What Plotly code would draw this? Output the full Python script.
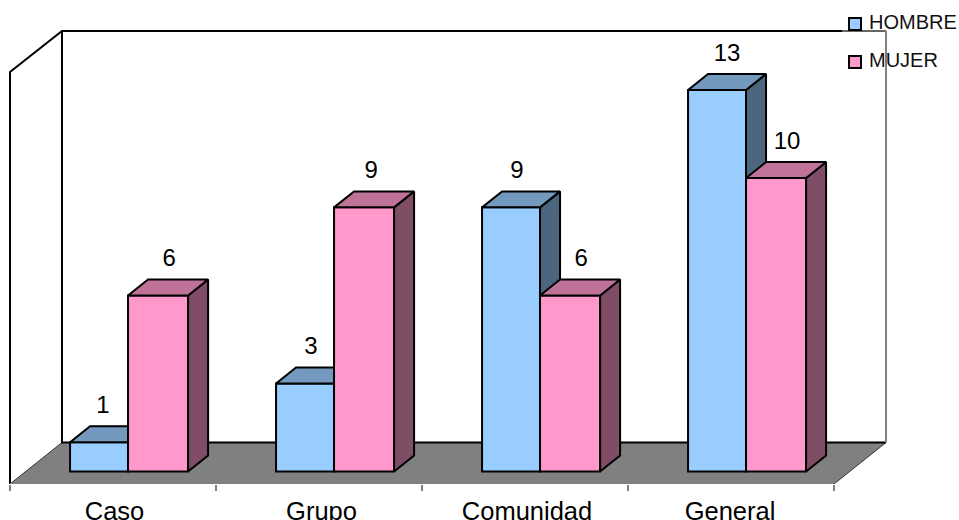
import plotly.graph_objects as go

categories = ["Caso", "Grupo", "Comunidad", "General"]
hombre = [1, 3, 9, 13]
mujer = [6, 9, 6, 10]
series_names = ["HOMBRE", "MUJER"]

FONT = "Liberation Sans, Arial, sans-serif"
W, H = 959, 520
PX_X0, PX_CAT = 10.0, 206.0     # pixel of category 0 start, pixels per category
PX_Y0, PX_UNIT = 472.0, 29.38   # pixel of value 0, pixels per unit
AXIS_PX = 484.5

def dx(px): return px / PX_CAT
def dy(px): return px / PX_UNIT
def xp(px): return (px - PX_X0) / PX_CAT
def yp(px): return (PX_Y0 - px) / PX_UNIT

xr = [xp(0), xp(W)]
yr = [yp(AXIS_PX), yp(0)]

# bar layout inside a category (fractions of the category)
H_START, H_W = 0.2915, 0.2815
M_START, M_W = 0.573, 0.2915
DEPTH_X, DEPTH_Y = dx(20), dy(16)

def faces(xs, vals, width, top_col, side_col, name):
    out = []
    for i, v in zip(xs, vals):
        l, r = i, i + width
        out.append(go.Scatter(
            x=[r, r + DEPTH_X, r + DEPTH_X, r, r], y=[0, DEPTH_Y, v + DEPTH_Y, v, 0],
            mode="lines", fill="toself", fillcolor=side_col, showlegend=False,
            line=dict(color="black", width=2), hoverinfo="skip", name=name))
        out.append(go.Scatter(
            x=[l, l + DEPTH_X, r + DEPTH_X, r, l], y=[v, v + DEPTH_Y, v + DEPTH_Y, v, v],
            mode="lines", fill="toself", fillcolor=top_col, showlegend=False,
            line=dict(color="black", width=2), hoverinfo="skip", name=name))
    return out

fig = go.Figure()
h_x = [i + H_START for i in range(len(categories))]
m_x = [i + M_START for i in range(len(categories))]

fig.add_trace(go.Bar(x=h_x, y=hombre, width=H_W, offset=0, name="HOMBRE", showlegend=False,
                     marker=dict(color="#99CCFF", line=dict(color="black", width=2)),
                     xaxis="x", yaxis="y"))
for t in faces(h_x, hombre, H_W, "#7399BF", "#4D6680", "HOMBRE"):
    t.update(xaxis="x", yaxis="y")
    fig.add_trace(t)

fig.add_trace(go.Bar(x=m_x, y=mujer, width=M_W, offset=0, name="MUJER", showlegend=False,
                     marker=dict(color="#FF99CC", line=dict(color="black", width=2)),
                     xaxis="x2", yaxis="y2"))
for t in faces(m_x, mujer, M_W, "#BF7399", "#804D66", "MUJER"):
    t.update(xaxis="x2", yaxis="y2")
    fig.add_trace(t)

# value labels: above each bar's top face, with small per-label nudges in pixels
LBL_X, LBL_Y = dx(7), dy(35.5)
NUDGE_H = [-3, -1, -1, 3]
NUDGE_M = [4, 0, 4, 4]
fig.add_trace(go.Scatter(
    x=[x + H_W / 2 + LBL_X + dx(n) for x, n in zip(h_x, NUDGE_H)]
      + [x + M_W / 2 + LBL_X + dx(n) for x, n in zip(m_x, NUDGE_M)],
    y=[v + LBL_Y for v in hombre + mujer],
    text=[str(v) for v in hombre + mujer],
    mode="text", textposition="middle center", showlegend=False, hoverinfo="skip",
    textfont=dict(family=FONT, size=24, color="black"), xaxis="x2", yaxis="y2"))

# key drawn at the reference's exact spot
for name, colour, row_px in zip(series_names, ["#99CCFF", "#FF99CC"], [24, 62]):
    fig.add_trace(go.Scatter(
        x=[xp(855)], y=[yp(row_px)], mode="markers", name=name, showlegend=False,
        marker=dict(symbol="square", size=12, color=colour, line=dict(color="black", width=2)),
        hoverinfo="skip", xaxis="x2", yaxis="y2"))
    fig.add_trace(go.Scatter(
        x=[xp(869)], y=[yp(row_px)], mode="text", text=[name], name=name, showlegend=False,
        textposition="middle right", cliponaxis=False,
        textfont=dict(family=FONT, size=20, color="#111111"),
        hoverinfo="skip", xaxis="x2", yaxis="y2"))

# 3-D box: floor, walls, front axis
W_DX, W_DY = dx(52), dy(41.5)
FLOOR = yr[0]
N = len(categories)
WALL_TOP = yp(31)
LEFT_TOP = yp(72)

def path(pts, close=False):
    s = "M" + " L".join(f"{x},{y}" for x, y in pts)
    return s + (" Z" if close else "")

def box(pts, colour, width=2, close=False, fill=None):
    d = dict(type="path", layer="below", xref="x", yref="y",
             line=dict(color=colour, width=width), path=path(pts, close))
    if fill:
        d["fillcolor"] = fill
    return d

shapes = [
    box([(0, FLOOR), (W_DX, FLOOR + W_DY), (N + W_DX, FLOOR + W_DY), (N, FLOOR)], "#333333", 1, True, "#808080"),
    box([(0, FLOOR), (0, LEFT_TOP), (W_DX, WALL_TOP), (xp(842), WALL_TOP)], "black"),
    box([(xp(842), WALL_TOP), (N + W_DX, WALL_TOP)], "#666666"),
    box([(W_DX, WALL_TOP), (W_DX, FLOOR + W_DY), (N + W_DX, FLOOR + W_DY)], "black"),
    box([(N + W_DX, WALL_TOP), (N + W_DX, FLOOR + W_DY)], "#808080"),
    box([(0, FLOOR), (N, FLOOR)], "#808080"),
]

TICK_NUDGE = [1.5, 2.5, 2, -1]
hidden = dict(visible=False, fixedrange=True)
fig.update_layout(
    width=W, height=H, autosize=False, showlegend=False,
    margin=dict(l=0, r=0, t=0, b=H - AXIS_PX, pad=0),
    paper_bgcolor="white", plot_bgcolor="rgba(0,0,0,0)",
    barmode="overlay", shapes=shapes,
    font=dict(family=FONT, color="black"),
    xaxis=dict(range=xr, showgrid=False, zeroline=False, showline=False, fixedrange=True,
               automargin=False,
               tickmode="array", tickvals=[i + 0.5 + dx(n) for i, n in enumerate(TICK_NUDGE)],
               ticktext=categories,
               ticks="outside", ticklen=4, tickwidth=0, tickcolor="rgba(0,0,0,0)",
               tickfont=dict(family=FONT, size=25.5, color="black"),
               minor=dict(tickmode="array", tickvals=list(range(N + 1)), ticks="outside",
                          ticklen=6, tickwidth=1.5, tickcolor="#808080", showgrid=False)),
    yaxis=dict(range=yr, visible=False, fixedrange=True),
    xaxis2=dict(range=xr, overlaying="x", **hidden),
    yaxis2=dict(range=yr, overlaying="y", **hidden),
)
fig.write_html("out.html", config=dict(displayModeBar=False),
               post_script="document.body.style.margin='0';")
